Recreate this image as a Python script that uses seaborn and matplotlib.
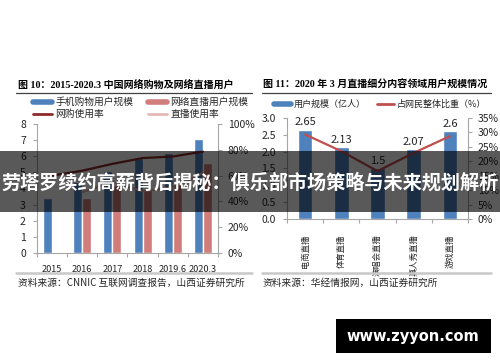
import numpy as np
import pandas as pd
import matplotlib
matplotlib.use('Agg')
import matplotlib.pyplot as plt
from matplotlib.lines import Line2D
from matplotlib.patches import Rectangle
from matplotlib.ticker import PercentFormatter, MultipleLocator, FormatStrFormatter
import seaborn as sns

# fig 10 data
years = ['2015', '2016', '2017', '2018', '2019.6', '2020.3']
mobile_users = [3.40, 4.41, 5.06, 5.92, 6.22, 7.07]
live_users = [np.nan, 3.44, 4.22, 3.97, 4.33, 5.60]
shop_rate = [60.0, 63.8, 69.1, 73.6, 74.8, 78.6]
live_rate = [np.nan, 47.1, 54.7, 47.9, 50.7, 62.0]

# fig 11 data
genres = ['电商直播', '体育直播', '演唱会直播', '真人秀直播', '游戏直播']
genre_users = [2.65, 2.13, 1.5, 2.07, 2.6]
genre_share = [29.3, 23.5, 16.6, 22.9, 28.7]

banner = '劳塔罗续约高薪背后揭秘：俱乐部市场策略与未来规划解析'

sns.set_theme(style='white')
plt.rcParams['font.family'] = ['Noto Sans CJK SC', 'DejaVu Sans']
plt.rcParams['axes.unicode_minus'] = False

blue = '#4F81BD'
pink = '#D07D7B'
darkred = '#8C2B2B'
lightpink = '#E6B9B8'
red = '#C0504D'
axcol = '#A6A6A6'
txt = '#262626'

W, H = 500, 362
fig = plt.figure(figsize=(5, 3.62), dpi=100)


def box(x0, y0, x1, y1):
    # pixel box (top-left origin) -> figure rect
    return [x0 / W, 1 - y1 / H, (x1 - x0) / W, (y1 - y0) / H]


def style_axes(ax, axr):
    for a in (ax, axr):
        a.spines['top'].set_visible(False)
        for s in ('left', 'right', 'bottom'):
            a.spines[s].set_color(axcol)
            a.spines[s].set_linewidth(0.8)
    axr.spines['left'].set_visible(False)
    axr.spines['bottom'].set_visible(False)
    ax.spines['right'].set_visible(False)
    ax.set_xlabel('')
    ax.set_ylabel('')
    axr.set_ylabel('')
    ax.tick_params(axis='y', left=True, length=3, width=0.8, color=axcol,
                   labelsize=7.5, labelcolor=txt, pad=5)
    axr.tick_params(axis='y', right=True, length=3, width=0.8, color=axcol,
                    labelsize=7.5, labelcolor=txt, pad=4)
    ax.tick_params(axis='x', which='major', bottom=False, labelsize=6.6,
                   labelcolor=txt, pad=3)
    ax.tick_params(axis='x', which='minor', bottom=True, length=3, width=0.8,
                   color=axcol)


# ---- left chart ----
ax1 = fig.add_axes(box(37, 124, 218, 253))
df1 = pd.DataFrame({
    'year': years * 2,
    'value': mobile_users + live_users,
    'kind': ['手机购物用户规模'] * len(years) + ['网络直播用户规模'] * len(years),
})
sns.barplot(data=df1, x='year', y='value', hue='kind', palette=[blue, pink],
            width=0.6, saturation=1, legend=False, ax=ax1)
ax1.set_ylim(0, 8)
ax1.set_yticks(range(0, 9))
ax1.set_xlim(-0.5, len(years) - 0.5)
ax1.set_xticks(np.arange(-0.5, len(years), 1), minor=True)

ax1r = ax1.twinx()
sns.lineplot(x=years, y=shop_rate, color=darkred, lw=1.6, ax=ax1r)
sns.lineplot(x=years, y=live_rate, color=lightpink, lw=1.6, ax=ax1r)
ax1r.set_ylim(0, 100)
ax1r.yaxis.set_major_locator(MultipleLocator(20))
ax1r.yaxis.set_major_formatter(PercentFormatter(decimals=0))
ax1.set_xlim(-0.5, len(years) - 0.5)
style_axes(ax1, ax1r)
for lab in ax1.get_xticklabels():
    lab.set_fontweight('medium')

h1 = [Line2D([], [], color=blue, lw=4), Line2D([], [], color=darkred, lw=2),
      Line2D([], [], color=pink, lw=4), Line2D([], [], color=lightpink, lw=2)]
l1 = ['手机购物用户规模', '网购使用率', '网络直播用户规模', '直播使用率']
fig.legend(h1, l1, loc='upper left', bbox_to_anchor=(33 / W, 1 - 97 / H), ncol=2,
           frameon=False, fontsize=7, handlelength=2.0, handletextpad=0.3,
           columnspacing=1.5, labelspacing=0.2, borderaxespad=0, borderpad=0,
           labelcolor=txt)

# ---- right chart ----
ax2 = fig.add_axes(box(287, 118, 468, 219))
sns.barplot(x=genres, y=genre_users, color=blue, width=0.4, saturation=1, ax=ax2)
ax2.bar_label(ax2.containers[0], fmt='%g', padding=2, fontsize=8, color=txt)
ax2.set_ylim(0, 3)
ax2.yaxis.set_major_locator(MultipleLocator(0.5))
ax2.yaxis.set_major_formatter(FormatStrFormatter('%.1f'))
ax2.set_xlim(-0.5, len(genres) - 0.5)
ax2.set_xticks(np.arange(-0.5, len(genres), 1), minor=True)

ax2r = ax2.twinx()
sns.lineplot(x=genres, y=genre_share, color=red, lw=1.6, ax=ax2r)
ax2r.set_ylim(0, 35)
ax2r.yaxis.set_major_locator(MultipleLocator(5))
ax2r.yaxis.set_major_formatter(PercentFormatter(decimals=0))
ax2.set_xlim(-0.5, len(genres) - 0.5)
style_axes(ax2, ax2r)
ax2.tick_params(axis='x', which='major', labelrotation=90, labelsize=6, pad=5)

h2 = [Line2D([], [], color=blue, lw=4), Line2D([], [], color=red, lw=2)]
l2 = ['用户规模（亿人）', '占网民整体比重（%）']
fig.legend(h2, l2, loc='upper left', bbox_to_anchor=(274 / W, 1 - 100 / H), ncol=2,
           frameon=False, fontsize=6.5, handlelength=1.9, handletextpad=0.3,
           columnspacing=1.2, borderaxespad=0, borderpad=0, labelcolor=txt)

# ---- titles, rules, sources ----
serif = ['Liberation Serif', 'Noto Sans CJK SC']
fig.text(18 / W, 1 - 85 / H, '图 10：2015-2020.3 中国网络购物及网络直播用户',
         fontsize=7.2, fontweight='bold', family=serif, va='center', color='black')
fig.text(263 / W, 1 - 85 / H, '图 11：2020 年 3 月直播细分内容领域用户规模情况',
         fontsize=7.2, fontweight='bold', family=serif, va='center', color='black')
for x0, x1 in [(16, 252), (262, 491)]:
    fig.add_artist(Line2D([x0 / W, x1 / W], [1 - 93 / H] * 2,
                          transform=fig.transFigure, color='#404040', lw=0.9))
    fig.add_artist(Line2D([x0 / W, x1 / W], [1 - 273 / H] * 2,
                          transform=fig.transFigure, color='#C8C8C8', lw=1.8))
fig.text(18 / W, 1 - 283 / H, '资料来源：CNNIC 互联网调查报告，山西证券研究所',
         fontsize=7, va='center', color=txt)
fig.text(263 / W, 1 - 283 / H, '资料来源：华经情报网，山西证券研究所',
         fontsize=7, va='center', color=txt)

# ---- overlay banner and watermark ----
fig.add_artist(Rectangle((0, 1 - 212 / H), 1, 61 / H, transform=fig.transFigure,
                         facecolor='black', alpha=0.65, edgecolor='none', zorder=10))
fig.text(0.5, 1 - 183 / H, banner, color='white', fontsize=13.8, fontweight='bold',
         ha='center', va='center', zorder=11)
fig.add_artist(Rectangle((336 / W, 1 - 353 / H), 155 / W, 34 / H,
                         transform=fig.transFigure, facecolor='black',
                         edgecolor='none', zorder=10))
fig.text(413 / W, 1 - 336 / H, 'www.zyyon.com', color='white', fontsize=10.5,
         fontweight='bold', family='DejaVu Sans', ha='center', va='center', zorder=11)

fig.savefig('out.png', dpi=100)
